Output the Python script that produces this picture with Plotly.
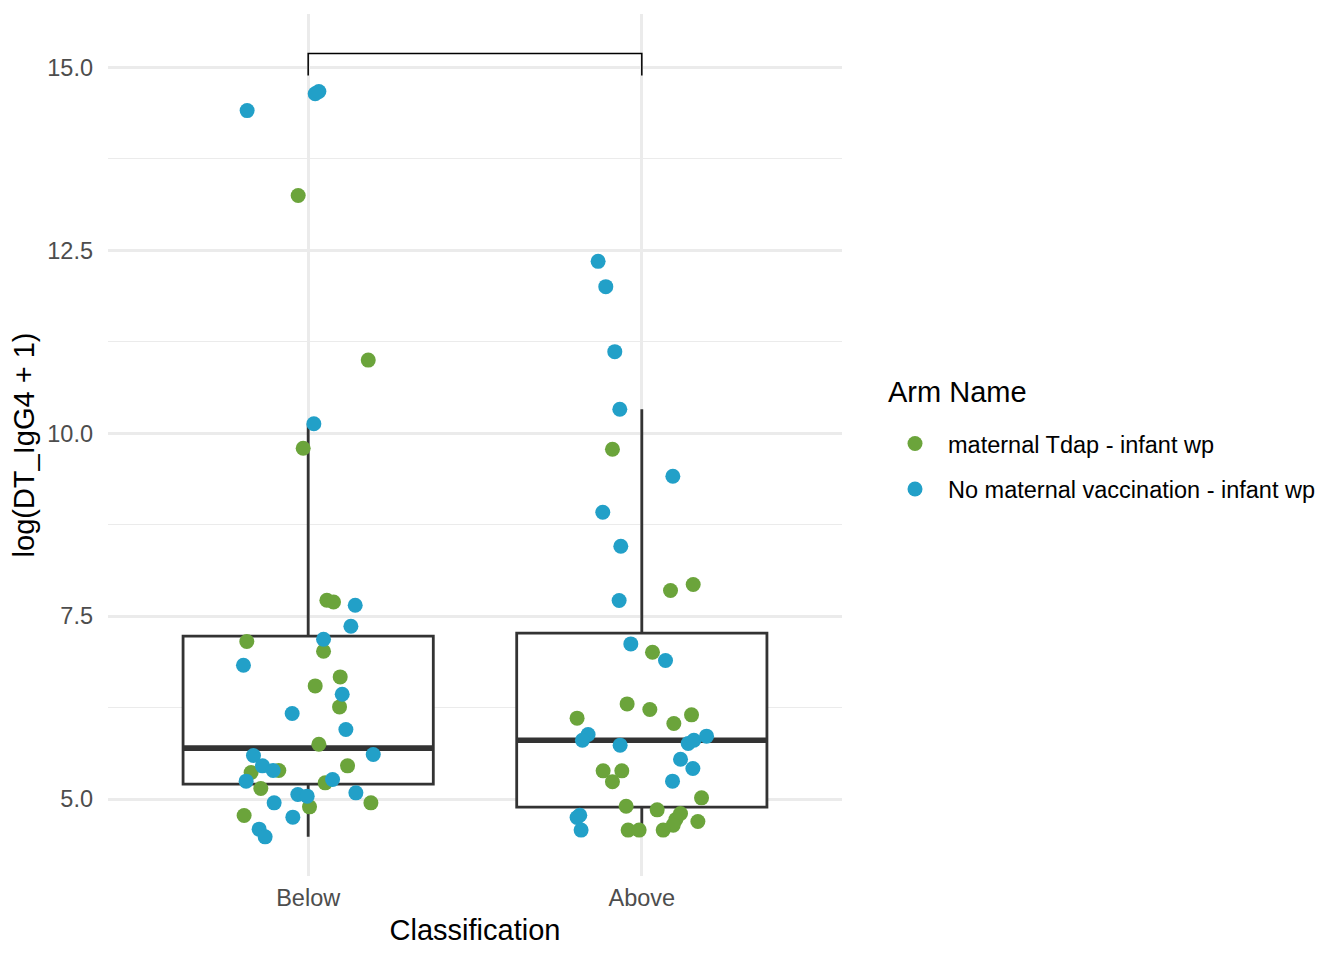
import plotly.graph_objects as go

categories = ["Below", "Above"]
arm_names = ["maternal Tdap - infant wp", "No maternal vaccination - infant wp"]
arm_colors = ["#6BA43B", "#22A0C8"]
legend_title = "Arm Name"

# Box statistics per category (Below, Above)
box_lower = [4.485, 4.577]
box_q1 = [5.205, 4.890]
box_median = [5.697, 5.806]
box_q3 = [7.227, 7.268]
box_upper = [10.13, 10.328]

# Points: maternal Tdap - infant wp
below_tdap_y = [13.25, 11.00, 9.795, 7.719, 7.695, 7.154, 7.022, 6.671, 6.548, 6.261,
                5.751, 5.365, 5.392, 5.455, 5.223, 5.146, 4.95, 4.895, 4.777]
below_tdap_jit = [-0.03, 0.18, -0.015, 0.056, 0.076, -0.184, 0.046, 0.096, 0.021, 0.094,
                  0.032, -0.171, -0.088, 0.118, 0.051, -0.142, 0.188, 0.004, -0.192]
above_tdap_y = [9.781, 7.851, 7.933, 7.008, 6.302, 6.225, 6.107, 6.034, 6.152, 5.387,
                5.387, 5.237, 5.018, 4.904, 4.854, 4.805, 4.723, 4.695, 4.645, 4.577,
                4.577, 4.577]
above_tdap_jit = [-0.088, 0.086, 0.154, 0.032, -0.044, 0.024, -0.194, 0.096, 0.149, -0.116,
                  -0.06, -0.088, 0.179, -0.047, 0.046, 0.116, 0.102, 0.168, 0.094, -0.041,
                  -0.008, 0.064]

# Points: No maternal vaccination - infant wp
below_none_y = [14.41, 14.64, 14.67, 10.13, 7.65, 7.363, 7.186, 6.83, 6.434, 6.171,
                5.952, 5.597, 5.61, 5.455, 5.392, 5.246, 5.269, 5.064, 5.041, 5.086,
                4.95, 4.754, 4.59, 4.485]
below_none_jit = [-0.183, 0.021, 0.032, 0.017, 0.141, 0.128, 0.046, -0.194, 0.102, -0.048,
                  0.113, -0.164, 0.195, -0.137, -0.105, -0.186, 0.073, -0.031, -0.003, 0.143,
                  -0.102, -0.046, -0.147, -0.129]
above_none_y = [12.35, 12.004, 11.116, 10.328, 9.413, 8.92, 8.456, 7.714, 7.122, 6.894,
                5.883, 5.806, 5.738, 5.761, 5.806, 5.861, 5.546, 5.419, 5.246, 4.781,
                4.75, 4.577]
above_none_jit = [-0.131, -0.108, -0.081, -0.066, 0.093, -0.117, -0.063, -0.068, -0.033, 0.071,
                  -0.161, -0.178, -0.065, 0.139, 0.156, 0.194, 0.116, 0.153, 0.092, -0.186,
                  -0.194, -0.182]

# Significance bracket
bracket_top = 15.19
bracket_tip = 14.89

BOX_WIDTH = 0.75
FONT = "Liberation Sans"

fig = go.Figure()

idx = list(range(len(categories)))
fig.add_trace(go.Box(
    x=idx, q1=box_q1, median=box_median, q3=box_q3,
    lowerfence=box_lower, upperfence=box_upper,
    width=BOX_WIDTH, whiskerwidth=0, boxpoints=False,
    line=dict(color="#333333", width=2.8), fillcolor="white",
    showlegend=False, hoverinfo="skip",
))

# thick median lines
mx, my = [], []
for i, m in zip(idx, box_median):
    mx += [i - BOX_WIDTH / 2, i + BOX_WIDTH / 2, None]
    my += [m, m, None]
fig.add_trace(go.Scatter(x=mx, y=my, mode="lines",
                         line=dict(color="#333333", width=5.6),
                         showlegend=False, hoverinfo="skip"))

groups = [
    (arm_names[0], arm_colors[0],
     [0 + j for j in below_tdap_jit] + [1 + j for j in above_tdap_jit],
     below_tdap_y + above_tdap_y),
    (arm_names[1], arm_colors[1],
     [0 + j for j in below_none_jit] + [1 + j for j in above_none_jit],
     below_none_y + above_none_y),
]
for k, (name, col, xs, ys) in enumerate(groups):
    fig.add_trace(go.Scatter(
        x=xs, y=ys, mode="markers", name=name, legendgroup=f"g{k}",
        marker=dict(color=col, size=15, line=dict(width=0)),
    ))

fig.add_trace(go.Scatter(
    x=[0, 0, 1, 1], y=[bracket_tip, bracket_top, bracket_top, bracket_tip],
    mode="lines", line=dict(color="black", width=1.5),
    showlegend=False, hoverinfo="skip"))

fig.add_annotation(
    text=legend_title, xref="paper", yref="paper", x=1.0593, y=0.561,
    xanchor="left", yanchor="middle", showarrow=False,
    font=dict(size=29, family=FONT, color="black"),
)

fig.update_layout(
    width=1336, height=952,
    margin=dict(l=100, r=502, t=6, b=84),
    paper_bgcolor="white", plot_bgcolor="white",
    font=dict(family=FONT, color="black"),
    legend=dict(
        font=dict(size=23.5, family=FONT, color="black"),
        x=1.0545, xanchor="left", y=0.527, yanchor="top",
        tracegroupgap=12, itemsizing="trace", itemwidth=56,
        bgcolor="rgba(0,0,0,0)",
    ),
    xaxis=dict(
        range=[-0.6, 1.6], tickvals=idx, ticktext=categories,
        showgrid=True, gridcolor="#EBEBEB", gridwidth=2.8,
        zeroline=False, showline=False, ticks="", ticklabelstandoff=5,
        tickfont=dict(size=23.5, color="#4D4D4D", family=FONT),
        title=dict(text="Classification", font=dict(size=29, color="black", family=FONT), standoff=10),
    ),
    yaxis=dict(
        range=[3.95, 15.73], tick0=5, dtick=2.5, tickformat=".1f",
        showgrid=True, gridcolor="#EBEBEB", gridwidth=2.8,
        minor=dict(dtick=1.25, tick0=5, showgrid=True, gridcolor="#EBEBEB", gridwidth=1.4),
        zeroline=False, showline=False, ticks="", ticklabelstandoff=14,
        tickfont=dict(size=23.5, color="#4D4D4D", family=FONT),
        title=dict(text="log(DT_IgG4 + 1)", font=dict(size=29, color="black", family=FONT), standoff=4),
    ),
)

fig.write_html("out.html")
